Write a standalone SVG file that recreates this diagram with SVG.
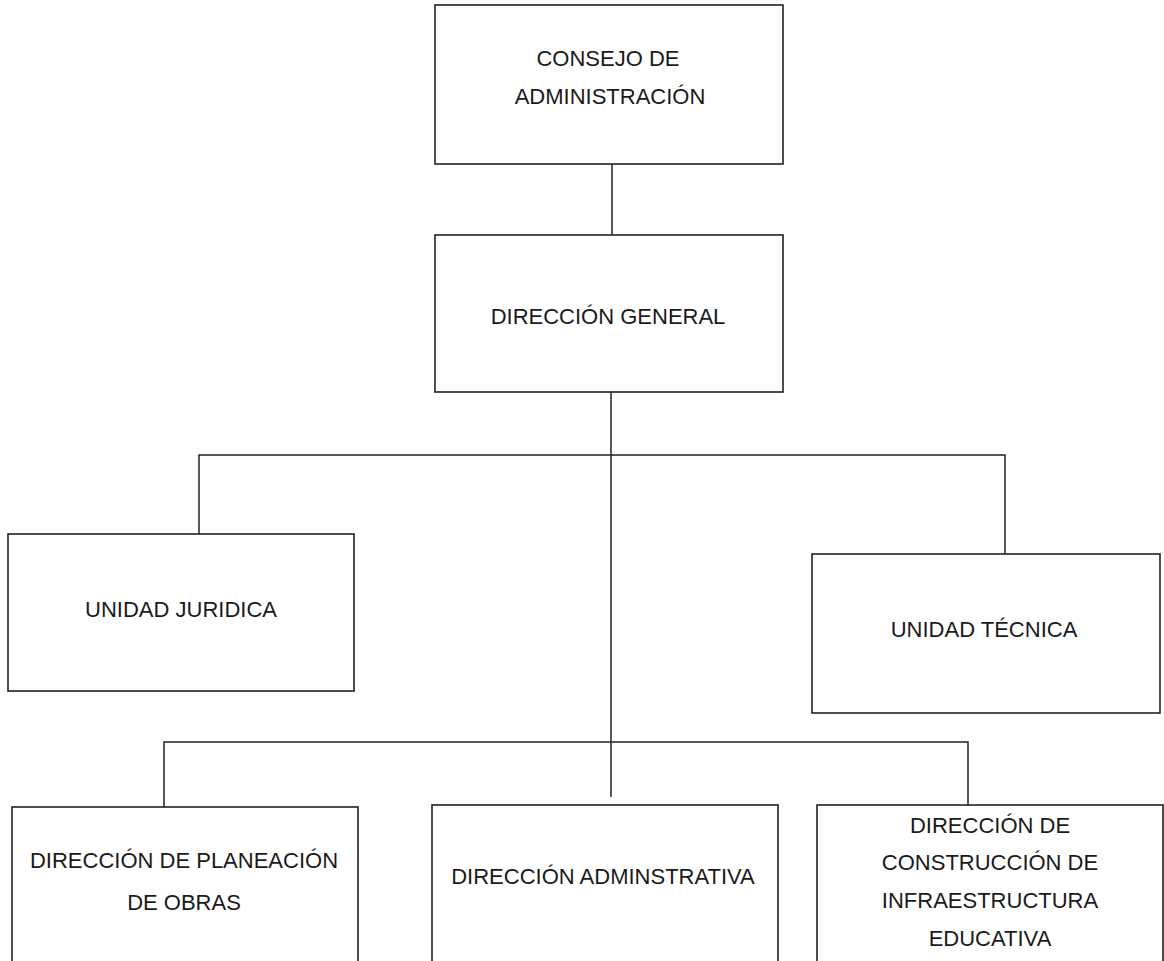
<svg xmlns="http://www.w3.org/2000/svg" width="1164" height="961" viewBox="0 0 1164 961">
<style>
.box{fill:#fff;stroke:#222;stroke-width:1.6}
.lbl{font-family:"Liberation Sans",Arial,sans-serif;font-size:22px;fill:#1a1a1a;text-anchor:middle}
.con{stroke:#222;stroke-width:1.5;fill:none}
</style>
<rect width="1164" height="961" fill="#fff"/>
<g id="connectors">
<line class="con" x1="612" y1="164" x2="612" y2="235"/>
<line class="con" x1="611" y1="392" x2="611" y2="797"/>
<polyline class="con" points="199,534 199,455 1005,455 1005,554"/>
<polyline class="con" points="164,807 164,742 968,742 968,805"/>
</g>
<g id="consejo">
<rect class="box" x="435" y="5" width="348" height="159"/>
<text class="lbl" x="608" y="66">CONSEJO DE</text>
<text class="lbl" x="610" y="104">ADMINISTRACIÓN</text>
</g>
<g id="direccion-general">
<rect class="box" x="435" y="235" width="348" height="157"/>
<text class="lbl" x="608" y="324">DIRECCIÓN GENERAL</text>
</g>
<g id="unidad-juridica">
<rect class="box" x="8" y="534" width="346" height="157"/>
<text class="lbl" x="181" y="617">UNIDAD JURIDICA</text>
</g>
<g id="unidad-tecnica">
<rect class="box" x="812" y="554" width="348" height="159"/>
<text class="lbl" x="984" y="637">UNIDAD TÉCNICA</text>
</g>
<g id="dir-planeacion">
<rect class="box" x="12" y="807" width="346" height="200"/>
<text class="lbl" x="184" y="868">DIRECCIÓN DE PLANEACIÓN</text>
<text class="lbl" x="184" y="910">DE OBRAS</text>
</g>
<g id="dir-administrativa">
<rect class="box" x="432" y="805" width="346" height="200"/>
<text class="lbl" x="603" y="884">DIRECCIÓN ADMINSTRATIVA</text>
</g>
<g id="dir-construccion">
<rect class="box" x="817" y="805" width="346" height="200"/>
<text class="lbl" x="990" y="833">DIRECCIÓN DE</text>
<text class="lbl" x="990" y="870">CONSTRUCCIÓN DE</text>
<text class="lbl" x="990" y="908">INFRAESTRUCTURA</text>
<text class="lbl" x="990" y="946">EDUCATIVA</text>
</g>
</svg>
